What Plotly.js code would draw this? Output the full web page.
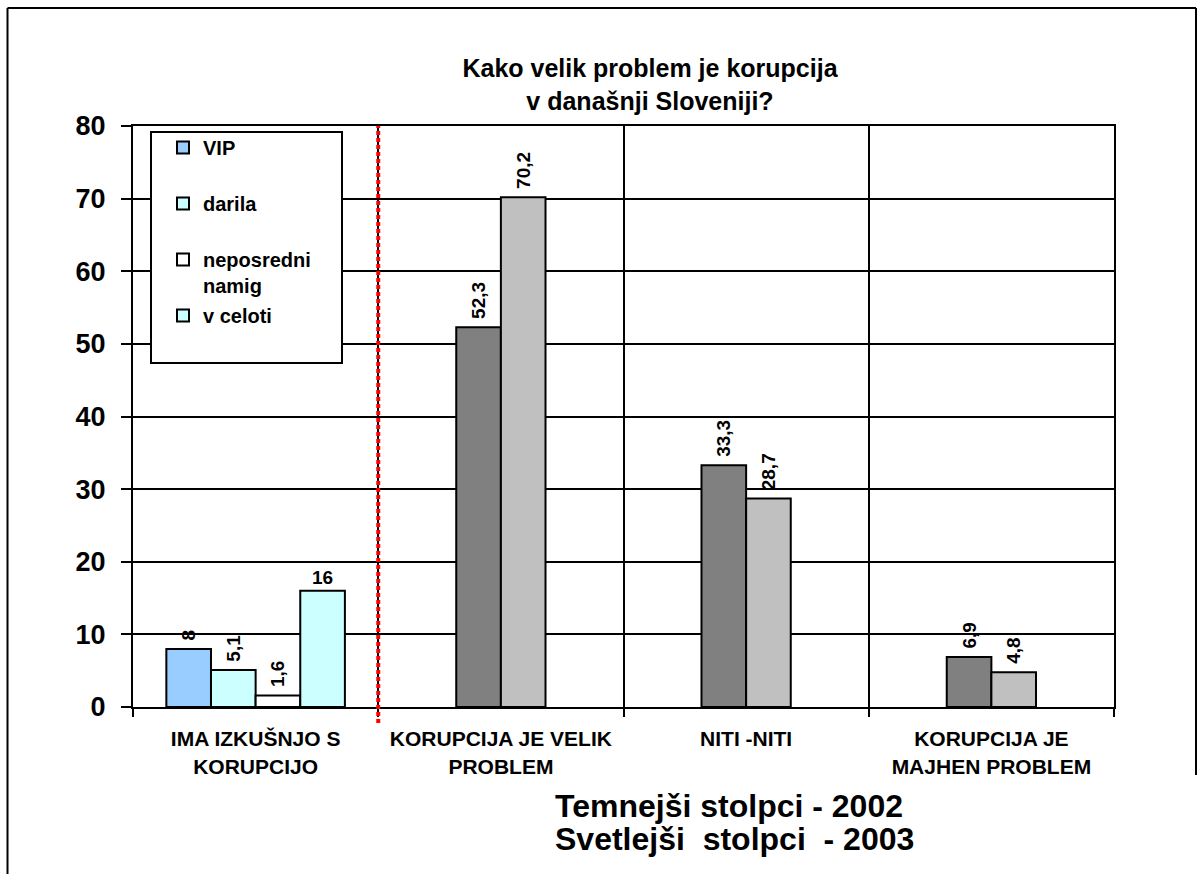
<!DOCTYPE html>
<html>
<head>
<meta charset="utf-8">
<script src="https://cdn.plot.ly/plotly-3.0.1.min.js"></script>
<style>
  html, body { margin: 0; padding: 0; background: #ffffff; }
  #chart { width: 1202px; height: 874px; }
</style>
</head>
<body>
<div id="chart"></div>
<script>
// ---- data ----
var categories = [
  'IMA IZKUŠNJO S<br>KORUPCIJO',
  'KORUPCIJA JE VELIK<br>PROBLEM',
  'NITI -NITI',
  'KORUPCIJA JE<br>MAJHEN PROBLEM'
];
var experienceNames = ['VIP', 'darila', 'neposredni<br>namig', 'v celoti'];
var experienceValues = [8, 5.1, 1.6, 16];
var opinionCategories = categories.slice(1);
var values2002 = [52.3, 33.3, 6.9];
var values2003 = [70.2, 28.7, 4.8];
var yTicks = [0, 10, 20, 30, 40, 50, 60, 70, 80];
var titleText = 'Kako velik problem je korupcija<br>v današnji Sloveniji?';
var noteLines = ['Temnejši stolpci - 2002', 'Svetlejši  stolpci  - 2003'];

// ---- styles ----
var FONT = 'Liberation Sans, Arial, sans-serif';
var expColors = ['#99CCFF', '#CCFFFF', '#FFFFFF', '#CCFFFF'];
var expOffsets = [-0.364, -0.182, 0, 0.182];
var BARW = 0.182;
var LABEL_FONT = { family: FONT, size: 19, color: '#000000', weight: 'bold' };

function fmt(v) { return String(v).replace('.', ','); }
function fmtRot(v) { return '\u00a0' + fmt(v); }

var traces = [];
experienceNames.forEach(function (name, i) {
  var rotated = (i !== 3);
  traces.push({
    type: 'bar',
    name: name + (name.indexOf('<br>') < 0 ? '<br>\u00a0' : ''),
    x: [categories[0]],
    y: [experienceValues[i]],
    width: BARW,
    offset: expOffsets[i],
    marker: { color: expColors[i], line: { color: '#000000', width: 2 } },
    text: [rotated ? fmtRot(experienceValues[i]) : fmt(experienceValues[i])],
    textposition: 'outside',
    textangle: rotated ? -90 : 0,
    textfont: LABEL_FONT,
    cliponaxis: false,
    legendgroup: 'g' + i,
    hoverinfo: 'skip'
  });
});
traces.push({
  type: 'bar',
  name: '2002',
  x: opinionCategories,
  y: values2002,
  width: BARW,
  offset: -0.182,
  marker: { color: '#808080', line: { color: '#000000', width: 2 } },
  text: values2002.map(fmtRot),
  textposition: 'outside',
  textangle: -90,
  textfont: LABEL_FONT,
  cliponaxis: false,
  showlegend: false,
  hoverinfo: 'skip'
});
traces.push({
  type: 'bar',
  name: '2003',
  x: opinionCategories,
  y: values2003,
  width: BARW,
  offset: 0,
  marker: { color: '#C0C0C0', line: { color: '#000000', width: 2 } },
  text: values2003.map(fmtRot),
  textposition: 'outside',
  textangle: -90,
  textfont: LABEL_FONT,
  cliponaxis: false,
  showlegend: false,
  hoverinfo: 'skip'
});

var L = 133, R = 1114, T = 126, B = 707, W = 1202, H = 874;
function px(x) { return (x - L) / (R - L); }
function py(y) { return (B - y) / (B - T); }

var annotations = noteLines.map(function (line, i) {
  return {
    text: line, xref: 'paper', yref: 'paper',
    x: px(553), xanchor: 'left', y: py(806 + 33 * i), yanchor: 'middle',
    align: 'left', showarrow: false,
    font: { family: FONT, size: 32, color: '#000000', weight: 'bold' }
  };
});

var layout = {
  width: W, height: H,
  margin: { l: L, r: W - R, t: T, b: H - B },
  paper_bgcolor: '#ffffff',
  plot_bgcolor: '#ffffff',
  font: { family: FONT, color: '#000000' },
  barmode: 'overlay',
  title: {
    text: titleText,
    font: { family: FONT, size: 25, color: '#000000', weight: 'bold' },
    xref: 'container', x: 650 / W, xanchor: 'center',
    yref: 'container', y: 1 - 77 / H, yanchor: 'top'
  },
  xaxis: {
    type: 'category',
    categoryorder: 'array',
    categoryarray: categories,
    range: [-0.5, 3.5],
    tickson: 'boundaries',
    ticks: 'outside', ticklen: 8, tickwidth: 2, tickcolor: '#000000',
    ticklabelstandoff: 12,
    showgrid: true, gridcolor: '#000000', gridwidth: 2,
    showline: true, linecolor: '#000000', linewidth: 2, mirror: true,
    tickfont: { family: FONT, size: 21, color: '#000000', weight: 'bold' },
    fixedrange: true
  },
  yaxis: {
    range: [0, 80],
    tickmode: 'array', tickvals: yTicks, ticktext: yTicks.map(String),
    ticks: 'outside', ticklen: 10, tickwidth: 2, tickcolor: '#000000',
    ticklabelstandoff: 10,
    showgrid: true, gridcolor: '#000000', gridwidth: 2,
    zeroline: false,
    showline: true, linecolor: '#000000', linewidth: 2, mirror: true,
    tickfont: { family: FONT, size: 27, color: '#000000', weight: 'bold' },
    fixedrange: true
  },
  showlegend: true,
  legend: {
    x: px(163), xanchor: 'left',
    y: py(128), yanchor: 'top',
    bgcolor: 'rgba(0,0,0,0)',
    borderwidth: 0,
    traceorder: 'grouped',
    tracegroupgap: 1,
    valign: 'top',
    font: { family: FONT, size: 20, color: '#000000', weight: 'bold' }
  },
  shapes: [
    // legend box
    { type: 'rect', xref: 'paper', yref: 'paper', layer: 'above',
      x0: px(151), x1: px(342), y0: py(363), y1: py(132),
      fillcolor: '#ffffff', line: { color: '#000000', width: 2 } },
    // red separator
    { type: 'line', xref: 'x', yref: 'paper', layer: 'above',
      x0: 0.5, x1: 0.5, y0: py(723), y1: 1,
      line: { color: '#FF0000', width: 4, dash: '4px,3px' } },
    // outer frame
    { type: 'line', xref: 'paper', yref: 'paper', x0: px(7.5), x1: px(7.5), y0: py(874), y1: py(8),
      line: { color: '#000000', width: 2 } },
    { type: 'line', xref: 'paper', yref: 'paper', x0: px(7.5), x1: px(1196), y0: py(8), y1: py(8),
      line: { color: '#000000', width: 2 } },
    { type: 'line', xref: 'paper', yref: 'paper', x0: px(1196), x1: px(1196), y0: py(775), y1: py(8),
      line: { color: '#000000', width: 2 } }
  ],
  annotations: annotations
};

Plotly.newPlot('chart', traces, layout, { displayModeBar: false, staticPlot: true });
</script>
</body>
</html>
